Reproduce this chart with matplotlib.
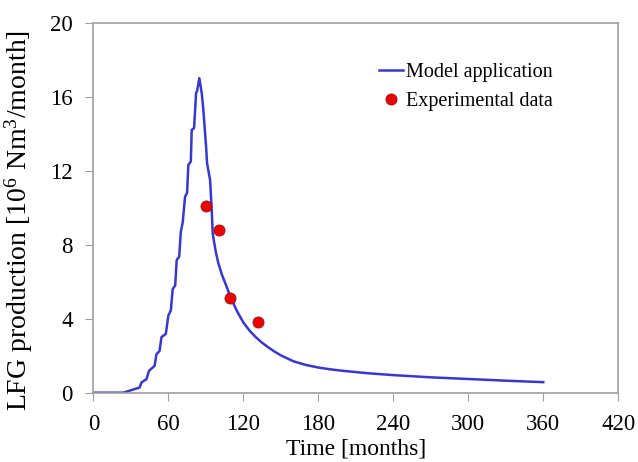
import numpy as np
import matplotlib
matplotlib.use("Agg")
import matplotlib.pyplot as plt

plt.rcParams["font.family"] = ["Liberation Serif", "DejaVu Serif"]
plt.rcParams["mathtext.fontset"] = "custom"
plt.rcParams["mathtext.rm"] = "Liberation Serif"
plt.rcParams["mathtext.it"] = "Liberation Serif:italic"

# model curve (months, 10^6 Nm3/month)
model_t = [0, 24, 37, 38.5, 42.5, 44.5, 49, 50.5, 53, 54.5, 58, 60, 62, 63.5,
           65.5, 66.7, 68.7, 70, 71.5, 73.4, 75, 76, 78, 78.7, 80.6, 82.2, 83,
           84.8, 86.7, 88, 90.2, 91, 93.4, 94.7, 95.5,
           98, 100, 103, 105.5, 110, 115, 120, 125, 130, 135, 140, 145, 150,
           160, 170, 180, 190, 200, 220, 240, 270, 300, 330, 360]
model_q = [0, 0, 0.28, 0.55, 0.73, 1.18, 1.45, 2.08, 2.26, 3.0, 3.18, 4.17,
           4.44, 5.6, 5.8, 7.17, 7.35, 8.7, 9.2, 10.6, 10.8, 12.3, 12.5, 14.2,
           14.3, 16.2, 16.3, 17.0, 16.2, 15.3, 13.3, 12.4, 11.5, 9.9, 8.6,
           7.6, 7.0, 6.35, 5.93, 5.12, 4.4, 3.8, 3.35, 3.0, 2.7, 2.45, 2.22,
           2.02, 1.7, 1.5, 1.36, 1.26, 1.18, 1.05, 0.95, 0.83, 0.74, 0.65,
           0.57]

# experimental points
exp_t = [90.2, 100.3, 109.4, 132]
exp_q = [10.1, 8.8, 5.1, 3.8]

fig = plt.figure(figsize=(6.38, 4.62), dpi=100)
ax = fig.add_axes([0.1463, 0.15, 0.8228, 0.801])

ax.plot(model_t, model_q, color="#3838CC", lw=1.8, label="Model application")
ax.plot(exp_t, exp_q, "o", color="#EE0000", mec="#8B1A1A", mew=0.6, ms=8,
        label="Experimental data")

ax.set_xlim(0, 420)
ax.set_ylim(0, 20)
ax.set_xticks(np.arange(0, 421, 60))
ax.set_yticks(np.arange(0, 21, 4))
ax.tick_params(direction="out", length=6, color="#A0A0A0", labelsize=16.5)
ax.tick_params(axis="x", pad=9)
ax.tick_params(axis="y", pad=9)
for s in ax.spines.values():
    s.set_color("#A0A0A0")
    s.set_linewidth(1.2)

ax.set_xlabel("Time [months]", fontsize=17, labelpad=3)
ax.set_ylabel(r"LFG production [10$^6$ Nm$^3$/month]", fontsize=20)
ax.yaxis.set_label_coords(-0.112, 0.464)

ax.legend(loc="upper left", bbox_to_anchor=(0.51, 0.94), frameon=False,
          fontsize=14.5, handlelength=1.2, handletextpad=0.15,
          labelspacing=0.5, numpoints=1)

fig.savefig("out.png", dpi=100)
